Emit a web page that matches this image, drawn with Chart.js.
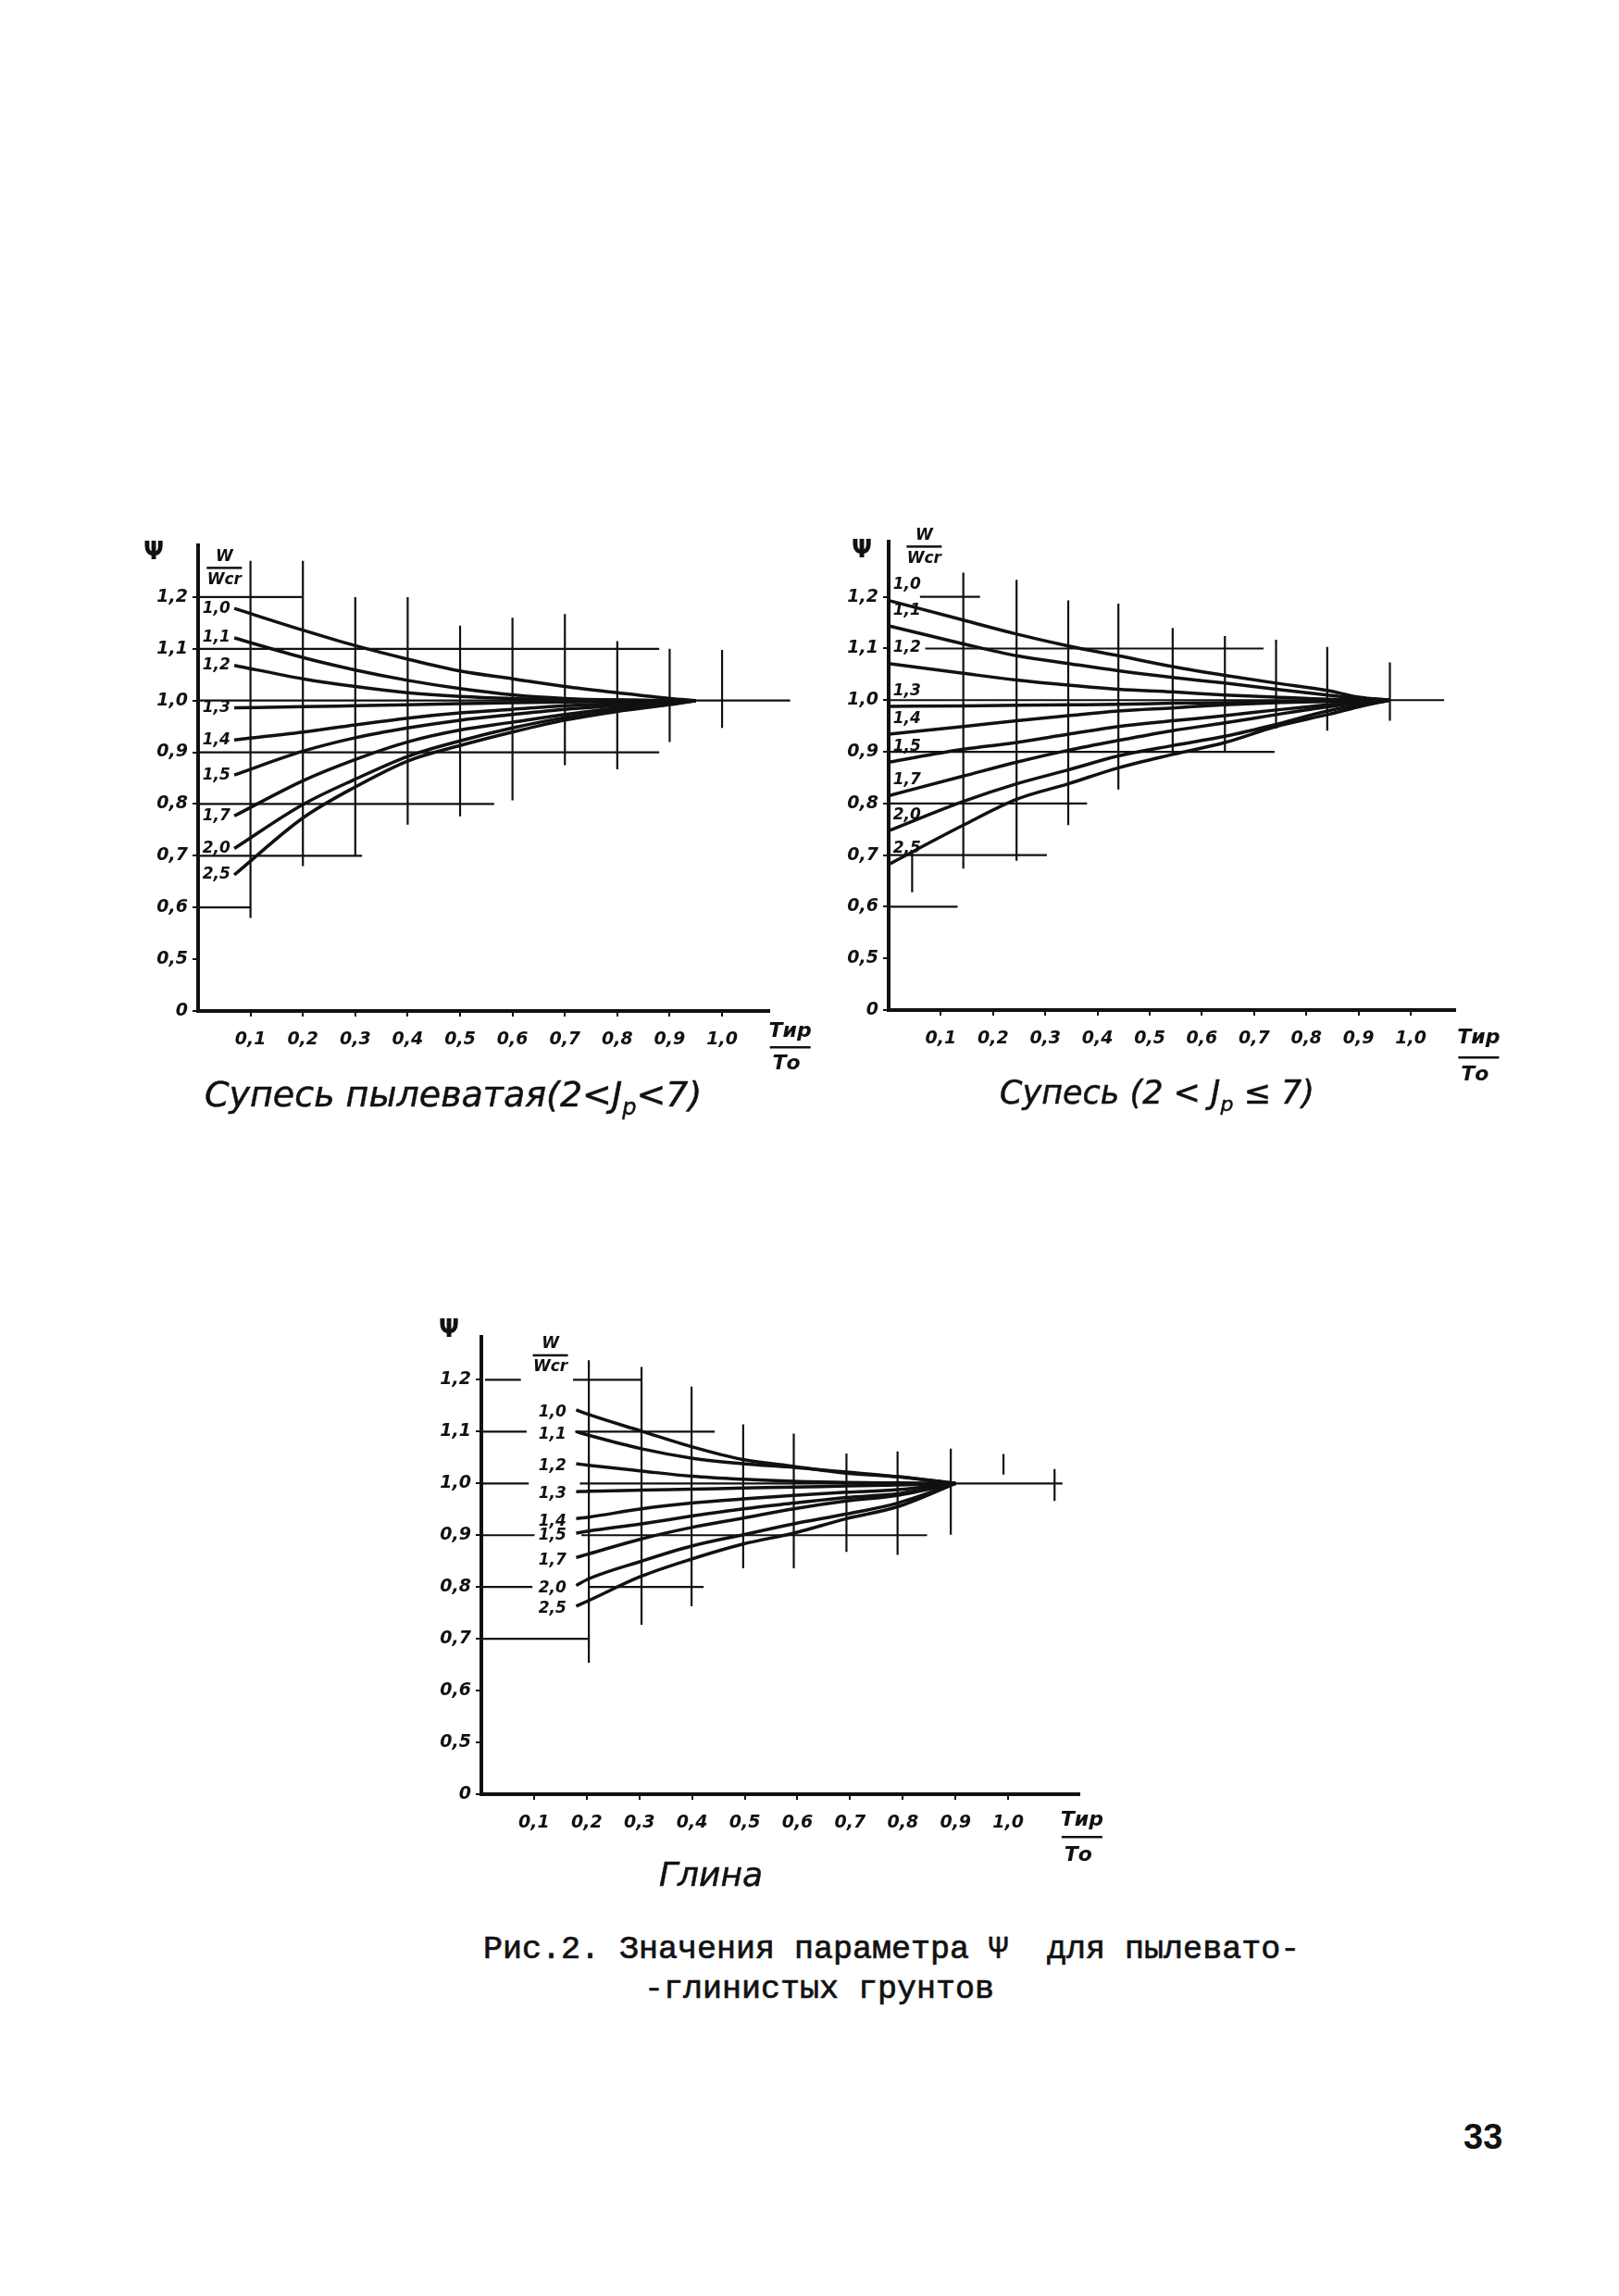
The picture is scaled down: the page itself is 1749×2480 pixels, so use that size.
<!DOCTYPE html>
<html lang="ru">
<head>
<meta charset="utf-8">
<script src="https://cdn.jsdelivr.net/npm/chart.js@4.4.0/dist/chart.umd.min.js"></script>
<style>
  body { margin: 0; background: #fff; }
  #page { position: relative; width: 1749px; height: 2480px; background: #fff; overflow: hidden; }
  canvas { position: absolute; }
  .sub { position: absolute; font-family: "DejaVu Sans"; font-style: italic; color: #111; white-space: nowrap; -webkit-text-stroke: 0.5px #111; }
  .cap { position: absolute; font-family: "Liberation Mono"; font-size: 35px; color: #111; white-space: pre; -webkit-text-stroke: 0.7px #111; }
  .num { position: absolute; font-family: "Liberation Sans"; font-weight: bold; font-size: 38px; color: #111; }
</style>
</head>
<body>
<div id="page">
  <canvas id="c1" width="760" height="640" style="left:140px;top:560px"></canvas>
  <canvas id="c2" width="760" height="640" style="left:885px;top:560px"></canvas>
  <canvas id="c3" width="800" height="640" style="left:445px;top:1415px"></canvas>

  <div class="sub" style="left:221px;top:1160px;font-size:38px">Супесь пылеватая(2&lt;J<sub style="font-size:24px">р</sub>&lt;7)</div>
  <div class="sub" style="left:1080px;top:1160px;font-size:35px">Супесь (2 &lt; J<sub style="font-size:22px">р</sub> ≤ 7)</div>
  <div class="sub" style="left:712px;top:2004px;font-size:36px">Глина</div>

  <div class="cap" style="left:522px;top:2086px">Рис.2. Значения параметра Ψ  для пылевато-</div>
  <div class="cap" style="left:696px;top:2129px">-глинистых грунтов</div>
  <div class="num" style="left:1581px;top:2287px">33</div>
</div>

<script>
const ink = '#111';

// labels of the curves (W / Wcr), same order in all three charts
const ratioLabels = ['1,0', '1,1', '1,2', '1,3', '1,4', '1,5', '1,7', '2,0', '2,5'];
const xTicks = [0.1, 0.2, 0.3, 0.4, 0.5, 0.6, 0.7, 0.8, 0.9, 1.0];
const yTicks = [0.4, 0.5, 0.6, 0.7, 0.8, 0.9, 1.0, 1.1, 1.2]; // 0.4 is printed as "0" (broken axis)

// --- Супесь пылеватая ---
const x1 = [0.069, 0.2, 0.3, 0.4, 0.5, 0.6, 0.7, 0.8, 0.9, 0.95];
const psi1 = [
  [1.178, 1.136, 1.106, 1.080, 1.057, 1.042, 1.027, 1.015, 1.004, 1.0], // 1,0
  [1.121, 1.083, 1.059, 1.039, 1.023, 1.011, 1.004, 1.001, 1.000, 1.0], // 1,1
  [1.068, 1.042, 1.027, 1.015, 1.008, 1.004, 1.002, 1.001, 1.000, 1.0], // 1,2
  [0.986, 0.988, 0.990, 0.992, 0.994, 0.996, 0.997, 0.998, 0.999, 1.0], // 1,3
  [0.924, 0.939, 0.953, 0.966, 0.976, 0.983, 0.990, 0.994, 0.998, 1.0], // 1,4
  [0.856, 0.902, 0.928, 0.947, 0.962, 0.973, 0.983, 0.990, 0.997, 1.0], // 1,5
  [0.777, 0.845, 0.886, 0.920, 0.943, 0.958, 0.973, 0.985, 0.995, 1.0], // 1,7
  [0.714, 0.799, 0.848, 0.892, 0.922, 0.947, 0.967, 0.981, 0.993, 1.0], // 2,0
  [0.663, 0.773, 0.833, 0.883, 0.913, 0.939, 0.962, 0.979, 0.992, 1.0]  // 2,5
];
const hLev1 = [1.2, 1.1, 1.0, 0.9, 0.8, 0.7, 0.6];
const hFrom1 = [0, 0, 0, 0, 0, 0, 0];
const hTo1 = [0.2, 0.88, 1.13, 0.88, 0.565, 0.313, 0.1];
const vX1 = [0.1, 0.2, 0.3, 0.4, 0.5, 0.6, 0.7, 0.8, 0.9, 1.0];
const vTop1 = [1.27, 1.27, 1.2, 1.2, 1.145, 1.16, 1.167, 1.115, 1.1, 1.098];
const vBot1 = [0.58, 0.68, 0.70, 0.76, 0.776, 0.807, 0.875, 0.867, 0.92, 0.947];

// --- Супесь ---
const x2 = [0, 0.143, 0.245, 0.344, 0.44, 0.544, 0.644, 0.742, 0.84, 0.9, 0.96];
const psi2 = [
  [1.193, 1.155, 1.128, 1.105, 1.086, 1.065, 1.048, 1.033, 1.019, 1.006, 1.0],
  [1.144, 1.109, 1.086, 1.071, 1.057, 1.044, 1.033, 1.021, 1.010, 1.004, 1.0],
  [1.071, 1.052, 1.039, 1.029, 1.021, 1.016, 1.010, 1.006, 1.002, 1.001, 1.0],
  [0.988, 0.989, 0.990, 0.991, 0.992, 0.994, 0.995, 0.997, 0.998, 0.999, 1.0],
  [0.934, 0.949, 0.960, 0.970, 0.979, 0.985, 0.991, 0.995, 0.998, 0.999, 1.0],
  [0.880, 0.905, 0.918, 0.934, 0.949, 0.960, 0.970, 0.981, 0.991, 0.996, 1.0],
  [0.815, 0.853, 0.880, 0.903, 0.922, 0.941, 0.956, 0.972, 0.987, 0.994, 1.0],
  [0.747, 0.804, 0.838, 0.865, 0.892, 0.912, 0.930, 0.953, 0.979, 0.990, 1.0],
  [0.682, 0.758, 0.808, 0.838, 0.869, 0.895, 0.918, 0.949, 0.972, 0.987, 1.0]
];
const hLev2 = [1.2, 1.1, 1.0, 0.9, 0.8, 0.7, 0.6];
const hFrom2 = [0.06, 0.07, 0, 0, 0, 0, 0];
const hTo2 = [0.175, 0.718, 1.064, 0.739, 0.38, 0.303, 0.132];
const vX2 = [0.045, 0.143, 0.245, 0.344, 0.44, 0.544, 0.644, 0.742, 0.84, 0.96];
const vTop2 = [0.705, 1.247, 1.233, 1.193, 1.187, 1.14, 1.124, 1.117, 1.103, 1.073];
const vBot2 = [0.628, 0.674, 0.689, 0.758, 0.827, 0.895, 0.899, 0.945, 0.941, 0.96];

// --- Глина ---
const x3 = [0.18, 0.204, 0.304, 0.399, 0.497, 0.593, 0.693, 0.79, 0.9];
const psi3 = [
  [1.142, 1.133, 1.101, 1.071, 1.046, 1.033, 1.020, 1.013, 1.0],
  [1.100, 1.093, 1.067, 1.049, 1.038, 1.031, 1.022, 1.013, 1.0],
  [1.038, 1.035, 1.024, 1.014, 1.008, 1.004, 1.002, 1.001, 1.0],
  [0.984, 0.985, 0.987, 0.989, 0.991, 0.993, 0.995, 0.997, 1.0],
  [0.932, 0.935, 0.951, 0.962, 0.970, 0.977, 0.983, 0.988, 1.0],
  [0.904, 0.908, 0.922, 0.937, 0.951, 0.962, 0.973, 0.980, 1.0],
  [0.857, 0.864, 0.893, 0.915, 0.933, 0.951, 0.966, 0.977, 1.0],
  [0.803, 0.816, 0.850, 0.879, 0.901, 0.922, 0.941, 0.962, 1.0],
  [0.763, 0.774, 0.821, 0.854, 0.883, 0.904, 0.932, 0.955, 1.0]
];
const hLev3 = [1.2, 1.2, 1.1, 1.1, 1.0, 1.0, 0.9, 0.9, 0.8, 0.8, 0.7];
const hFrom3 = [0.007, 0.174, 0, 0.178, 0, 0.187, 0, 0.19, 0, 0.204, 0];
const hTo3 = [0.075, 0.304, 0.086, 0.443, 0.09, 1.103, 0.101, 0.846, 0.097, 0.422, 0.204];
const vX3 = [0.204, 0.304, 0.399, 0.497, 0.593, 0.693, 0.79, 0.891, 0.991, 1.088];
const vTop3 = [1.238, 1.225, 1.187, 1.114, 1.096, 1.058, 1.062, 1.067, 1.057, 1.028];
const vBot3 = [0.654, 0.727, 0.763, 0.836, 0.836, 0.868, 0.862, 0.901, 1.017, 0.966];

const fmtX = v => v.toFixed(1).replace('.', ',');
const fmtY = v => (Math.abs(v - 0.4) < 1e-6 ? '0' : v.toFixed(1).replace('.', ','));

// hand drawn grid pieces: one dataset, segments split by nulls
function gridPoints(lev, from, to, vx, top, bot) {
  const pts = [];
  lev.forEach((y, i) => { pts.push({x: from[i], y}, {x: to[i], y}, {x: to[i], y: null}); });
  vx.forEach((x, i) => { pts.push({x, y: top[i]}, {x, y: bot[i]}, {x, y: null}); });
  return pts;
}

function textPlugin(o) {
  return {
    id: 'sheetText',
    afterDraw(chart) {
      const {ctx, chartArea: a} = chart;
      const X = v => chart.scales.x.getPixelForValue(v);
      const Y = v => chart.scales.y.getPixelForValue(v);
      ctx.save();
      ctx.fillStyle = ink;
      ctx.textAlign = 'center';
      ctx.textBaseline = 'middle';
      ctx.font = 'italic bold 17px "DejaVu Sans"';
      o.psi.forEach((row, i) => ctx.fillText(ratioLabels[i], X(o.lblX), Y(row[0] + o.lblDy)));
      // W / Wcr
      const wx = X(o.wX), wy = Y(o.wY);
      ctx.fillText('W', wx, wy - 13);
      ctx.fillRect(wx - 19, wy - 2, 38, 2.5);
      ctx.fillText('Wcr', wx, wy + 12);
      // axis name
      ctx.font = 'bold 26px "DejaVu Sans"';
      ctx.fillText('Ψ', a.left + o.psiDx, a.top + o.psiDy);
      // Tир / Tо
      const tx = X(o.tX);
      ctx.font = 'italic bold 22px "DejaVu Sans"';
      ctx.fillText('Тир', tx, a.bottom + o.tY[0]);
      ctx.fillRect(tx - 22, a.bottom + o.tY[1], 44, 2.5);
      ctx.fillText('То', tx - 4, a.bottom + o.tY[2]);
      ctx.restore();
    }
  };
}

function build(id, o) {
  const datasets = [{
    data: gridPoints(o.hLev, o.hFrom, o.hTo, o.vX, o.vTop, o.vBot),
    borderColor: ink, borderWidth: 2.2, pointRadius: 0, tension: 0, spanGaps: false, clip: false
  }];
  o.psi.forEach(row => datasets.push({
    data: o.xs.map((x, j) => ({x, y: row[j]})),
    borderColor: ink, borderWidth: 3.5, pointRadius: 0,
    tension: 0.4, cubicInterpolationMode: 'monotone', clip: false
  }));

  const tickFont = {family: 'DejaVu Sans', style: 'italic', weight: 'bold', size: 19};
  new Chart(document.getElementById(id), {
    type: 'line',
    data: {datasets},
    options: {
      responsive: false,
      animation: false,
      devicePixelRatio: 1,
      layout: {padding: {left: 0, top: o.area.top, right: o.w - o.area.right, bottom: 0}},
      scales: {
        x: {
          type: 'linear', min: 0, max: o.xMax,
          afterFit: s => { s.height = o.h - o.area.bottom; },
          afterBuildTicks: s => { s.ticks = xTicks.map(v => ({value: v})); },
          ticks: {callback: fmtX, color: ink, font: tickFont, padding: 14, maxRotation: 0, autoSkip: false},
          grid: {display: true, drawOnChartArea: false, drawTicks: true, tickLength: 6, color: ink, lineWidth: 2},
          border: {display: true, color: ink, width: 4}
        },
        y: {
          type: 'linear', min: 0.4, max: o.yMax,
          afterFit: s => { s.width = o.area.left; },
          afterBuildTicks: s => { s.ticks = yTicks.map(v => ({value: v})); },
          ticks: {callback: fmtY, color: ink, font: tickFont, padding: 5, autoSkip: false},
          grid: {display: true, drawOnChartArea: false, drawTicks: true, tickLength: 6, color: ink, lineWidth: 2},
          border: {display: true, color: ink, width: 4}
        }
      },
      plugins: {legend: {display: false}, tooltip: {enabled: false}, title: {display: false}}
    },
    plugins: [textPlugin(o)]
  });
}

build('c1', {
  w: 760, h: 640, area: {left: 74, top: 29, right: 691, bottom: 532}, xMax: 1.09, yMax: 1.3,
  xs: x1, psi: psi1, hLev: hLev1, hFrom: hFrom1, hTo: hTo1, vX: vX1, vTop: vTop1, vBot: vBot1,
  lblX: 0.035, lblDy: 0, wX: 0.05, wY: 1.255, psiDx: -48, psiDy: 8, tX: 1.13, tY: [22, 38, 57]
});
build('c2', {
  w: 760, h: 640, area: {left: 75, top: 25, right: 687, bottom: 531}, xMax: 1.085, yMax: 1.307,
  xs: x2, psi: psi2, hLev: hLev2, hFrom: hFrom2, hTo: hTo2, vX: vX2, vTop: vTop2, vBot: vBot2,
  lblX: 0.035, lblDy: 0.03, wX: 0.068, wY: 1.296, psiDx: -29, psiDy: 10, tX: 1.13, tY: [30, 50, 70]
});
build('c3', {
  w: 800, h: 640, area: {left: 75, top: 29, right: 721, bottom: 523}, xMax: 1.135, yMax: 1.283,
  xs: x3, psi: psi3, hLev: hLev3, hFrom: hFrom3, hTo: hTo3, vX: vX3, vTop: vTop3, vBot: vBot3,
  lblX: 0.135, lblDy: -0.005, wX: 0.131, wY: 1.246, psiDx: -35, psiDy: -7, tX: 1.14, tY: [28, 45, 66]
});
</script>
</body>
</html>
